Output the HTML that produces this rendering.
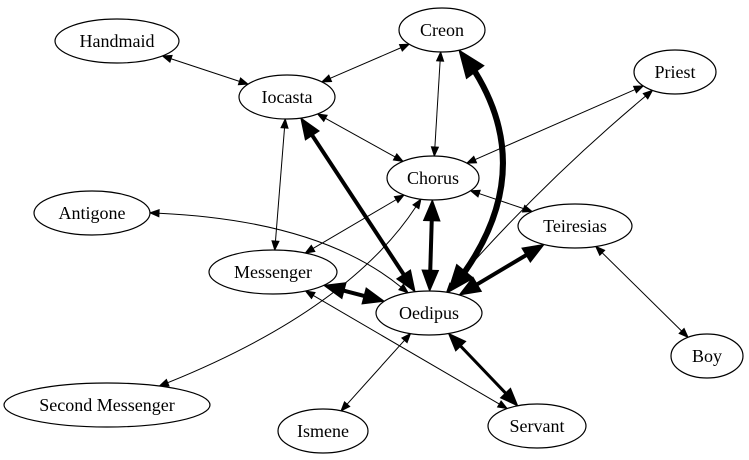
<!DOCTYPE html>
<html><head><meta charset="utf-8"><style>
html,body{margin:0;padding:0;background:#fff;width:749px;height:460px;overflow:hidden}
svg text{font-family:"Liberation Serif","Times New Roman",serif;font-size:18px;text-anchor:middle}
</style></head><body>
<svg id="s" width="749" height="460" xmlns="http://www.w3.org/2000/svg"></svg>
<script>
const N={
Handmaid:[117,41,62,22],Creon:[442,30,43,22],Iocasta:[287,97,48,22],Priest:[675,72,41,22],
Chorus:[433,178,46,22],Antigone:[92,213,58,22],Teiresias:[575,226,57,22],Messenger:[273,272,64,22],
Oedipus:[429,313,53,22],Boy:[707,356,36,22],"Second Messenger":[107,405,103,22],Ismene:[323,431,45,22],Servant:[537,426,49,22]};
const E=[
["Handmaid","Iocasta",1],["Iocasta","Creon",1],["Creon","Chorus",1],["Creon","Oedipus",6,[570,170]],
["Priest","Chorus",1],["Priest","Oedipus",1,[540,180]],["Iocasta","Chorus",1],["Iocasta","Messenger",1],
["Iocasta","Oedipus",4],["Chorus","Oedipus",4],["Chorus","Teiresias",1],["Chorus","Messenger",1],
["Chorus","Second Messenger",1,[360,320]],["Antigone","Oedipus",1,[330,205]],["Messenger","Oedipus",4],
["Messenger","Servant",1],["Teiresias","Oedipus",4],["Teiresias","Boy",1],["Oedipus","Ismene",1],["Oedipus","Servant",3]];
const s=document.getElementById('s');let h='';
function inside(n,p){const[cx,cy,rx,ry]=N[n];return ((p[0]-cx)/rx)**2+((p[1]-cy)/ry)**2<1}
function B(a,c,b,t){return[(1-t)**2*a[0]+2*(1-t)*t*c[0]+t*t*b[0],(1-t)**2*a[1]+2*(1-t)*t*c[1]+t*t*b[1]]}
function hs(w){return w==1?[9,3.5]:[8+3.2*w,3+1.3*w]}
for(const[a,b,w,cc]of E){
 const A=[N[a][0],N[a][1]],Bp=[N[b][0],N[b][1]];
 const C=cc||[(A[0]+Bp[0])/2,(A[1]+Bp[1])/2];
 let lo=0,hi=0.5;for(let i=0;i<40;i++){const m=(lo+hi)/2;inside(a,B(A,C,Bp,m))?lo=m:hi=m}const t0=hi;
 lo=0.5;hi=1;for(let i=0;i<40;i++){const m=(lo+hi)/2;inside(b,B(A,C,Bp,m))?hi=m:lo=m}const t1=lo;
 const P0=B(A,C,Bp,t0),P1=B(A,C,Bp,t1);
 const [L,W]=hs(w);
 function head(tip,from){const dx=tip[0]-from[0],dy=tip[1]-from[1],d=Math.hypot(dx,dy),ux=dx/d,uy=dy/d;
  const bx=tip[0]-ux*L,by=tip[1]-uy*L;
  h+=`<polygon points="${tip[0]},${tip[1]} ${bx-uy*W},${by+ux*W} ${bx+uy*W},${by-ux*W}" fill="#000" stroke="#000" stroke-width="1"/>`;
  return[bx,by]}
 const Q0=B(A,C,Bp,t0+0.04),Q1=B(A,C,Bp,t1-0.04);
 const S0=head(P0,Q0),S1=head(P1,Q1);
 const M=B(A,C,Bp,(t0+t1)/2);
 const cx2=2*M[0]-(S0[0]+S1[0])/2,cy2=2*M[1]-(S0[1]+S1[1])/2;
 h+=`<path d="M${S0[0]},${S0[1]} Q${cc?cx2:(S0[0]+S1[0])/2},${cc?cy2:(S0[1]+S1[1])/2} ${S1[0]},${S1[1]}" fill="none" stroke="#000" stroke-width="${w}"/>`;
}
for(const k in N){const[cx,cy,rx,ry]=N[k];
 h+=`<ellipse cx="${cx}" cy="${cy}" rx="${rx}" ry="${ry}" fill="#fff" stroke="#000" stroke-width="1.2"/><text x="${cx}" y="${cy+6}">${k}</text>`;}
s.innerHTML=h;
</script>
</body></html>
